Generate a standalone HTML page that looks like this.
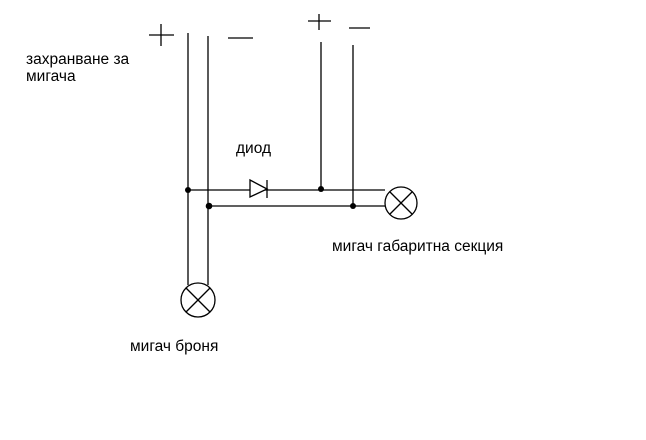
<!DOCTYPE html>
<html><head><meta charset="utf-8"><style>
body{margin:0;background:#fff;width:646px;height:435px;overflow:hidden}
svg text{font-family:"Liberation Sans","DejaVu Sans",sans-serif;font-size:15.5px;fill:#000}
</style></head><body>
<svg width="646" height="435" xmlns="http://www.w3.org/2000/svg">
<g stroke="#000" stroke-width="1.3" fill="none">
<line x1="149" y1="35" x2="174" y2="35"/><line x1="161" y1="24" x2="161" y2="46"/>
<line x1="228" y1="38" x2="253" y2="38"/>
<line x1="308" y1="21" x2="331" y2="21"/><line x1="319" y1="14" x2="319" y2="30"/>
<line x1="349" y1="28" x2="370" y2="28"/>
<line x1="188" y1="33" x2="188" y2="285"/>
<line x1="208" y1="36" x2="208" y2="285"/>
<line x1="321" y1="42" x2="321" y2="190"/>
<line x1="353" y1="45" x2="353" y2="206"/>
<line x1="188" y1="190" x2="385" y2="190"/>
<line x1="208" y1="206" x2="385" y2="206"/>
<polygon points="250,180 250,197 267,189" fill="#fff"/>
<line x1="267" y1="180" x2="267" y2="198"/>
<circle cx="198" cy="300" r="17"/>
<line x1="186" y1="288" x2="210" y2="312"/><line x1="210" y1="288" x2="186" y2="312"/>
<circle cx="401" cy="203" r="16"/>
<line x1="390" y1="192" x2="412" y2="214"/><line x1="412" y1="192" x2="390" y2="214"/>
</g>
<g fill="#000">
<circle cx="188" cy="190" r="3"/><circle cx="209" cy="206" r="3.3"/>
<circle cx="321" cy="189" r="3"/><circle cx="353" cy="206" r="3"/>
</g>
<text x="26" y="64">захранване за</text>
<text x="26" y="81">мигача</text>
<text x="236" y="153">диод</text>
<text x="332" y="251">мигач габаритна секция</text>
<text x="130" y="351">мигач броня</text>
</svg>
</body></html>
